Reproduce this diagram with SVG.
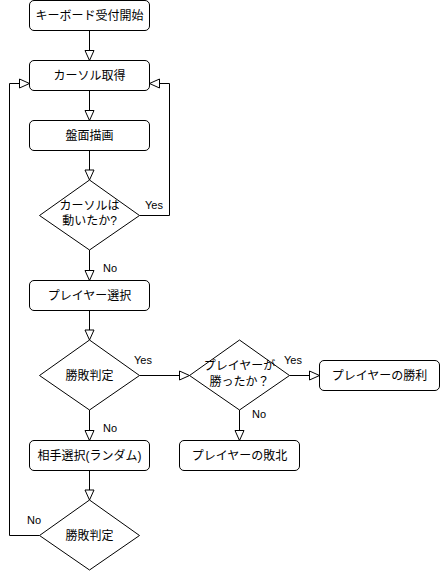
<svg xmlns="http://www.w3.org/2000/svg" width="440" height="571" viewBox="0 0 440 571">
<style>
.n rect,.n path{fill:#fff;stroke:#000;stroke-width:1}
.t{font-family:"Liberation Sans","Noto Sans CJK JP",sans-serif;font-size:12px;fill:#000;text-anchor:middle}
.c path{fill:none;stroke:#000;stroke-width:1}
.l{font-family:"Liberation Sans",Arial,sans-serif;font-size:11px;fill:#000}
</style>
<defs>
<marker id="a" markerUnits="userSpaceOnUse" markerWidth="12" markerHeight="11" refX="10" refY="4.5" orient="auto" viewBox="-1 -1 12 11">
<path d="M0,0 L10,4.5 L0,9 Z" fill="#fff" stroke="#000" stroke-width="1"/>
</marker>
</defs>
<rect width="440" height="571" fill="#fff"/>
<g class="c" id="connectors">
<path d="M89.5,30.5 V60.5" marker-end="url(#a)"/>
<path d="M89.5,90.5 V120.5" marker-end="url(#a)"/>
<path d="M89.5,150.5 V180" marker-end="url(#a)"/>
<path d="M139.5,215.5 H169.5 V83.5 H149.5" marker-end="url(#a)"/>
<path d="M89.5,250 V280.5" marker-end="url(#a)"/>
<path d="M89.5,310.5 V340" marker-end="url(#a)"/>
<path d="M139.5,375.5 H189.5" marker-end="url(#a)"/>
<path d="M289.5,375.5 H319.5" marker-end="url(#a)"/>
<path d="M239.5,410 V440.5" marker-end="url(#a)"/>
<path d="M89.5,410 V440.5" marker-end="url(#a)"/>
<path d="M89.5,470.5 V500" marker-end="url(#a)"/>
<path d="M39.5,535.5 H9.5 V83.5 H29.5" marker-end="url(#a)"/>
<text class="l" x="145" y="209">Yes</text>
<text class="l" x="103" y="272">No</text>
<text class="l" x="134" y="364">Yes</text>
<text class="l" x="284" y="364">Yes</text>
<text class="l" x="252" y="418">No</text>
<text class="l" x="103" y="432">No</text>
<text class="l" x="27" y="524">No</text>
</g>
<g class="n" id="start"><rect x="29.5" y="0.5" width="120" height="30" rx="4.5"/><text class="t" x="89.5" y="20">キーボード受付開始</text></g>
<g class="n" id="getCursor"><rect x="29.5" y="60.5" width="120" height="30" rx="4.5"/><text class="t" x="89.5" y="80">カーソル取得</text></g>
<g class="n" id="draw"><rect x="29.5" y="120.5" width="120" height="30" rx="4.5"/><text class="t" x="89.5" y="140">盤面描画</text></g>
<g class="n" id="moved"><path d="M89.5,180 L139.5,215.5 L89.5,250 L39.5,215.5 Z"/><text class="t" x="89.5" y="209.5">カーソルは</text><text class="t" x="89.5" y="225">動いたか?</text></g>
<g class="n" id="select"><rect x="29.5" y="280.5" width="120" height="30" rx="4.5"/><text class="t" x="89.5" y="300">プレイヤー選択</text></g>
<g class="n" id="judge1"><path d="M89.5,340 L139.5,375.5 L89.5,410 L39.5,375.5 Z"/><text class="t" x="89.5" y="380">勝敗判定</text></g>
<g class="n" id="won"><path d="M239.5,340 L289.5,375.5 L239.5,410 L189.5,375.5 Z"/><text class="t" x="239.5" y="369.5">プレイヤーが</text><text class="t" x="239.5" y="385.5">勝ったか？</text></g>
<g class="n" id="win"><rect x="319.5" y="360.5" width="120" height="30" rx="4.5"/><text class="t" x="379.5" y="380">プレイヤーの勝利</text></g>
<g class="n" id="lose"><rect x="179.5" y="440.5" width="120" height="30" rx="4.5"/><text class="t" x="239.5" y="460">プレイヤーの敗北</text></g>
<g class="n" id="opponent"><rect x="29.5" y="440.5" width="120" height="30" rx="4.5"/><text class="t" x="89.5" y="460">相手選択(ランダム)</text></g>
<g class="n" id="judge2"><path d="M89.5,500 L139.5,535.5 L89.5,570 L39.5,535.5 Z"/><text class="t" x="89.5" y="540">勝敗判定</text></g>
</svg>
